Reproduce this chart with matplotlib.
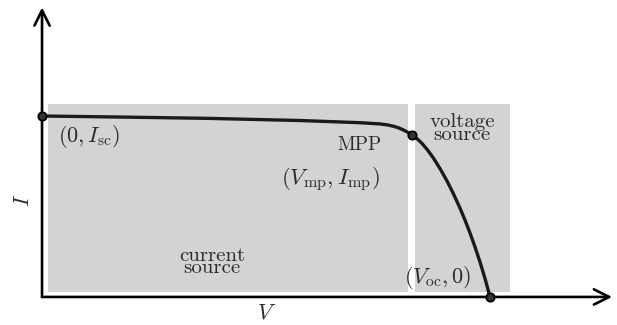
import matplotlib.pyplot as plt
from matplotlib.patches import Rectangle

plt.rcParams['mathtext.fontset'] = 'cm'
plt.rcParams['font.family'] = ['cmr10', 'DejaVu Serif']
plt.rcParams['axes.unicode_minus'] = False

# I-V curve of a PV cell, normalised (V / Voc, I / Isc)
volts = [0.0, 0.18, 0.369, 0.577, 0.711, 0.756, 0.772, 0.785, 0.797, 0.808,
         0.818, 0.828, 0.839, 0.850, 0.862, 0.875, 0.890, 0.906, 0.920,
         0.935, 0.946, 0.957, 0.969, 0.980, 0.991, 1.002]
amps = [1.0, 0.994, 0.987, 0.975, 0.963, 0.956, 0.951, 0.944, 0.935, 0.923,
        0.910, 0.895, 0.874, 0.848, 0.813, 0.769, 0.710, 0.640, 0.571,
        0.490, 0.425, 0.355, 0.272, 0.190, 0.100, 0.0]

# key points: short circuit, maximum power point, open circuit
key_v = [0.0, 0.828, 1.002]
key_i = [1.0, 0.895, 0.0]

# shaded operating regions (v0, v1, i0, i1)
regions = {'current': (0.013, 0.819, 0.028, 1.066),
           'voltage': (0.834, 1.047, 0.028, 1.066)}

fig = plt.figure(figsize=(6.17, 3.25), dpi=100)
ax = fig.add_axes([0, 0, 1, 1])
ax.set_xlim(-0.094, 1.286)
ax.set_ylim(-0.155, 1.641)
ax.axis('off')

for v0, v1, i0, i1 in regions.values():
    ax.add_patch(Rectangle((v0, i0), v1 - v0, i1 - i0, facecolor='#d3d3d3',
                           edgecolor='none', zorder=1))

# axes with open arrow heads
arrow = dict(arrowstyle='->, head_length=1.1, head_width=0.55', lw=1.9,
             color='black', shrinkA=0, shrinkB=0)
ax.annotate('', xy=(1.275, 0), xytext=(0, 0), arrowprops=arrow, zorder=3)
ax.annotate('', xy=(0, 1.6), xytext=(0, 0), arrowprops=arrow, zorder=3)

ax.plot(volts, amps, color='#1a1a1a', lw=2.4, zorder=4,
        solid_capstyle='round', solid_joinstyle='round')
ax.plot(key_v, key_i, 'o', ms=6, mfc='#333333', mec='black', mew=1.3, zorder=5)

tc = '#2b2b2b'
ax.text(0.036, 0.884, r'$(0, I_{\rm sc})$', fontsize=16, color=tc, ha='left', va='center')
ax.text(0.709, 0.84, 'MPP', fontsize=14, color=tc, ha='center', va='center')
ax.text(0.644, 0.646, r'$(V_{\rm mp}, I_{\rm mp})$', fontsize=16.5, color=tc,
        ha='center', va='center')
ax.text(0.94, 0.93, 'voltage\nsource', fontsize=15, color=tc, ha='center',
        va='center', linespacing=0.62)
ax.text(0.38, 0.193, 'current\nsource', fontsize=15, color=tc, ha='center',
        va='center', linespacing=0.62)
ax.text(0.886, 0.105, r'$(V_{\rm oc}, 0)$', fontsize=16, color=tc, ha='center',
        va='center')
ax.text(0.503, -0.088, r'$V$', fontsize=16, color=tc, ha='center', va='center')
ax.text(-0.043, 0.536, r'$I$', fontsize=16, color=tc, ha='center',
        va='center', rotation=90)

fig.savefig('out.png', dpi=100)
